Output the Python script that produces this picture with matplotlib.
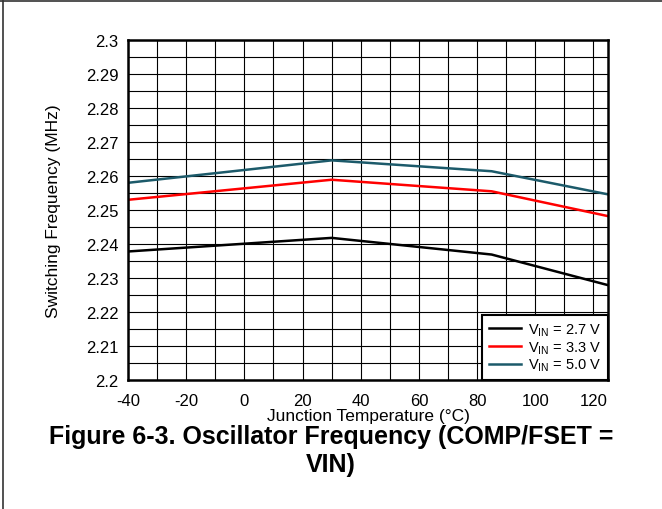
import matplotlib
matplotlib.use('Agg')
import matplotlib.pyplot as plt
from matplotlib.lines import Line2D
import numpy as np

plt.rcParams['font.family'] = ['Liberation Sans', 'DejaVu Sans']
plt.rcParams['mathtext.fontset'] = 'custom'
plt.rcParams['mathtext.rm'] = 'Liberation Sans'
plt.rcParams['mathtext.it'] = 'Liberation Sans:italic'
plt.rcParams['axes.unicode_minus'] = False

# data
temp = [-40, 30, 85, 125]
f_27 = [2.2378, 2.2418, 2.2369, 2.2279]
f_33 = [2.2530, 2.2589, 2.2555, 2.2482]
f_50 = [2.2580, 2.2646, 2.2614, 2.2546]
labels = [r'V$_{\mathrm{IN}}$ = 2.7 V', r'V$_{\mathrm{IN}}$ = 3.3 V', r'V$_{\mathrm{IN}}$ = 5.0 V']
colors = ['black', '#ff0000', '#1c5a6a']
ytick_labels = ['2.2', '2.21', '2.22', '2.23', '2.24', '2.25', '2.26', '2.27', '2.28', '2.29', '2.3']

fig = plt.figure(figsize=(6.62, 5.10), dpi=100)
ax = fig.add_axes([128/662, 1-381/510, 480/662, 340/510])

for y, lab, c in zip([f_27, f_33, f_50], labels, colors):
    ax.plot(temp, y, color=c, lw=1.8, label=lab, zorder=3)

ax.set_xlim(-40, 125)
ax.set_ylim(2.2, 2.3)
ax.set_xticks(np.arange(-40, 121, 20))
ax.set_xticks(np.arange(-40, 125, 10), minor=True)
ax.set_yticks(np.linspace(2.2, 2.3, 11))
ax.set_yticks(np.arange(2.2, 2.3, 0.005), minor=True)
ax.set_yticklabels(ytick_labels)
ax.grid(True, which='both', color='black', lw=0.8)
ax.tick_params(which='both', length=0, labelsize=12)
ax.tick_params(axis='x', pad=9)
ax.tick_params(axis='y', pad=7)
for s in ax.spines.values():
    s.set_linewidth(1.8)
    s.set_zorder(4)

ax.set_xlabel('Junction Temperature (°C)', fontsize=12.5, labelpad=0)
ax.set_ylabel('Switching Frequency (MHz)', fontsize=12.5, labelpad=18)

leg = ax.legend(loc='lower right', fontsize=10.5, fancybox=False, framealpha=1,
                edgecolor='black', borderaxespad=0, handlelength=2.2,
                labelspacing=0.1, borderpad=0.45, handletextpad=0.5)
leg.get_frame().set_linewidth(1.5)
leg.set_zorder(5)

fig.text(0.5, 1-437/510, 'Figure 6-3. Oscillator Frequency (COMP/FSET =',
         ha='center', va='center', fontsize=18, fontweight='bold')
fig.text(0.5, 1-465/510, 'VIN)', ha='center', va='center', fontsize=18, fontweight='bold')

# outer border (top and left edges)
fig.add_artist(Line2D([0, 1], [1-2/510, 1-2/510], transform=fig.transFigure, color='#333333', lw=1.2))
fig.add_artist(Line2D([3/662, 3/662], [0, 1-2/510], transform=fig.transFigure, color='#333333', lw=1.2))

fig.savefig('out.png', dpi=100)
